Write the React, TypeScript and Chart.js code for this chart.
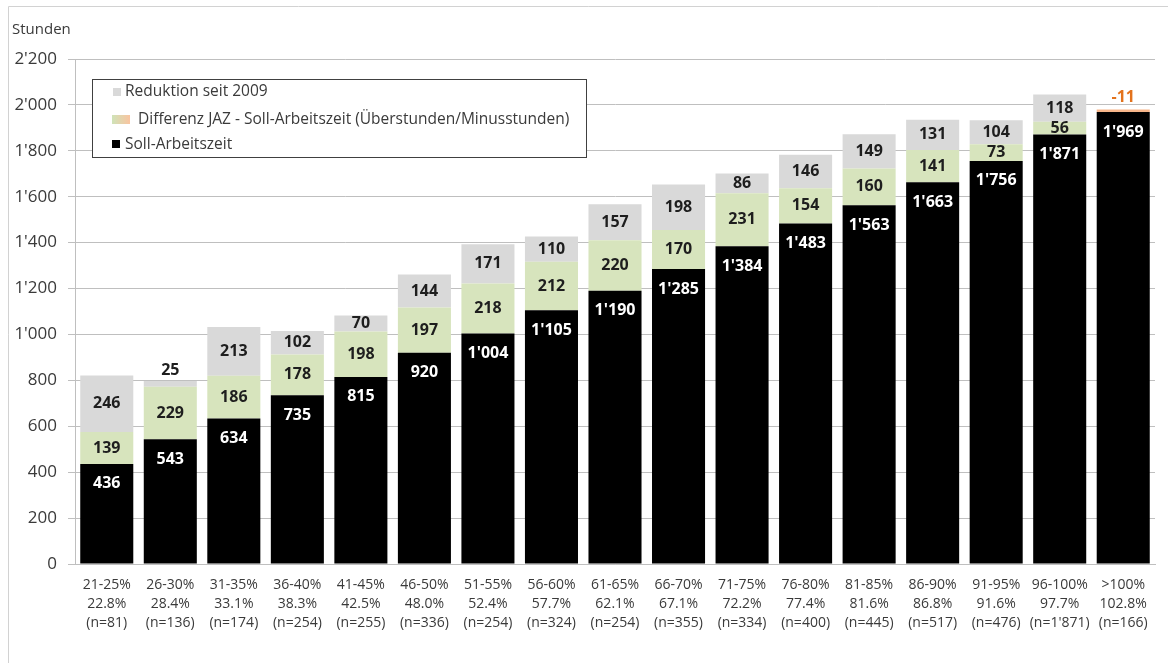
import React, { useEffect, useRef } from "react";
import { Chart, registerables } from "chart.js";

Chart.register(...registerables);

const rangeLabels = ["21-25%", "26-30%", "31-35%", "36-40%", "41-45%", "46-50%", "51-55%", "56-60%", "61-65%", "66-70%", "71-75%", "76-80%", "81-85%", "86-90%", "91-95%", "96-100%", ">100%"];
const meanLabels = ["22.8%", "28.4%", "33.1%", "38.3%", "42.5%", "48.0%", "52.4%", "57.7%", "62.1%", "67.1%", "72.2%", "77.4%", "81.6%", "86.8%", "91.6%", "97.7%", "102.8%"];
const nLabels = ["(n=81)", "(n=136)", "(n=174)", "(n=254)", "(n=255)", "(n=336)", "(n=254)", "(n=324)", "(n=254)", "(n=355)", "(n=334)", "(n=400)", "(n=445)", "(n=517)", "(n=476)", "(n=1'871)", "(n=166)"];

const sollValues = [436, 543, 634, 735, 815, 920, 1004, 1105, 1190, 1285, 1384, 1483, 1563, 1663, 1756, 1871, 1969];
const diffValues = [139, 229, 186, 178, 198, 197, 218, 212, 220, 170, 231, 154, 160, 141, 73, 56, -11];
const reduktionValues: (number | null)[] = [246, 25, 213, 102, 70, 144, 171, 110, 157, 198, 86, 146, 149, 131, 104, 118, null];

const legendLabels = ["Reduktion seit 2009", "Differenz JAZ - Soll-Arbeitszeit (Überstunden/Minusstunden)", "Soll-Arbeitszeit"];
const yAxisTitle = "Stunden";

const FONT = "'Open Sans', 'Liberation Sans', sans-serif";
const GRAY = "#d9d9d9";
const GREEN = "#d7e4bd";
const ORANGE = "#f7b58a";
const ORANGE_TEXT = "#e3721c";
const TEXT_DARK = "#1e1e1e";
const AXIS_TEXT = "#3a3a3a";
const GRID = "#bfbfbf";

const fmt = (v: number) => {
  const s = Math.abs(Math.round(v)).toString().replace(/\B(?=(\d{3})+(?!\d))/g, "'");
  return (v < 0 ? "-" : "") + s;
};

export default function App() {
  const canvasRef = useRef<HTMLCanvasElement | null>(null);

  useEffect(() => {
    const canvas = canvasRef.current;
    if (!canvas) return;

    const diffTops = sollValues.map((s, i) => s + Math.abs(diffValues[i]));
    const diffData = diffValues.map((d, i) => [sollValues[i], diffTops[i]]);
    const redData = reduktionValues.map((r, i) => (r == null ? null : [diffTops[i], diffTops[i] + r]));

    const frame = {
      id: "frame",
      beforeDraw(chart: any) {
        const ctx = chart.ctx;
        ctx.save();
        ctx.fillStyle = "#ffffff";
        ctx.fillRect(0, 0, chart.width, chart.height);
        ctx.strokeStyle = "#d2d2d2";
        ctx.lineWidth = 1;
        ctx.beginPath();
        ctx.moveTo(8.5, chart.height);
        ctx.lineTo(8.5, 6.5);
        ctx.lineTo(chart.width, 6.5);
        ctx.stroke();
        ctx.fillStyle = AXIS_TEXT;
        ctx.font = `15px ${FONT}`;
        ctx.textAlign = "left";
        ctx.textBaseline = "middle";
        ctx.fillText(yAxisTitle, 12, 30);
        ctx.restore();
      },
    };

    const labels = {
      id: "barLabels",
      afterDatasetsDraw(chart: any) {
        const ctx = chart.ctx;
        const m0 = chart.getDatasetMeta(0).data;
        const m1 = chart.getDatasetMeta(1).data;
        const m2 = chart.getDatasetMeta(2).data;
        ctx.save();
        ctx.textAlign = "center";
        ctx.textBaseline = "middle";
        ctx.font = `bold 16px ${FONT}`;
        for (let i = 0; i < sollValues.length; i++) {
          const b0 = m0[i];
          ctx.fillStyle = "#ffffff";
          ctx.fillText(fmt(sollValues[i]), b0.x, b0.y + 20);
          const b1 = m1[i];
          if (diffValues[i] < 0) {
            ctx.fillStyle = ORANGE_TEXT;
            ctx.fillText(fmt(diffValues[i]), b1.x, b1.y - 12);
          } else {
            ctx.fillStyle = TEXT_DARK;
            ctx.fillText(fmt(diffValues[i]), b1.x, (b1.y + b1.base) / 2);
          }
          const r = reduktionValues[i];
          if (r != null) {
            const b2 = m2[i];
            ctx.fillStyle = TEXT_DARK;
            const h = Math.abs(b2.base - b2.y);
            if (h < 14) ctx.fillText(fmt(r), b2.x, b2.y - 11);
            else ctx.fillText(fmt(r), b2.x, (b2.y + b2.base) / 2);
          }
        }
        ctx.restore();

        // legend box
        ctx.save();
        const lx = 92.5, ly = 79.5, lw = 494, lh = 78;
        ctx.fillStyle = "#ffffff";
        ctx.fillRect(lx, ly, lw, lh);
        ctx.strokeStyle = "#404040";
        ctx.lineWidth = 1;
        ctx.strokeRect(lx, ly, lw, lh);
        ctx.fillStyle = GRAY;
        ctx.fillRect(113, 88, 8, 8);
        const g = ctx.createLinearGradient(112, 0, 130, 0);
        g.addColorStop(0, "#cfe3b8");
        g.addColorStop(1, "#f9c4a0");
        ctx.fillStyle = g;
        ctx.fillRect(112, 115, 18, 9);
        ctx.fillStyle = "#000000";
        ctx.fillRect(112, 140, 8, 8);
        ctx.fillStyle = AXIS_TEXT;
        ctx.font = `15.5px ${FONT}`;
        ctx.textAlign = "left";
        ctx.textBaseline = "middle";
        ctx.fillText(legendLabels[0], 125, 92);
        ctx.fillText(legendLabels[1], 138, 119.5);
        ctx.fillText(legendLabels[2], 125, 144.5);
        ctx.restore();
      },
    };

    const chart = new Chart(canvas, {
      type: "bar",
      data: {
        labels: rangeLabels.map((r, i) => [r, meanLabels[i], nLabels[i]]),
        datasets: [
          { label: legendLabels[2], data: sollValues, backgroundColor: "#000000" },
          { label: legendLabels[1], data: diffData as any, backgroundColor: diffValues.map((d) => (d < 0 ? ORANGE : GREEN)) },
          { label: legendLabels[0], data: redData as any, backgroundColor: GRAY },
        ],
      },
      options: {
        animation: false,
        responsive: false,
        devicePixelRatio: 1,
        layout: { padding: { left: 0, right: 13, top: 59, bottom: 0 } },
        datasets: { bar: { grouped: false, barPercentage: 0.835, categoryPercentage: 1, borderWidth: 0 } },
        plugins: { legend: { display: false }, tooltip: { enabled: false }, title: { display: false } },
        scales: {
          x: {
            grid: { display: false, drawTicks: false },
            border: { display: true, color: GRID, width: 1 },
            ticks: { color: AXIS_TEXT, font: { family: FONT, size: 14, lineHeight: "19px" } as any, padding: 12, maxRotation: 0, autoSkip: false },
            afterFit: (s: any) => { s.height = 99; },
          },
          y: {
            min: 0,
            max: 2200,
            grid: { color: GRID, tickLength: 7, drawTicks: true },
            border: { display: true, color: GRID, width: 1 },
            ticks: { stepSize: 200, color: AXIS_TEXT, font: { family: FONT, size: 17 }, padding: 11, callback: (v: any) => fmt(Number(v)) },
            afterFit: (s: any) => { s.width = 75; },
          },
        },
      },
      plugins: [frame, labels],
    });

    return () => chart.destroy();
  }, []);

  return (
    <div style={{ position: "fixed", left: 0, top: 0, width: 1168, height: 663, background: "#fff" }}>
      <canvas ref={canvasRef} width={1168} height={663} style={{ width: 1168, height: 663, display: "block" }} />
    </div>
  );
}
